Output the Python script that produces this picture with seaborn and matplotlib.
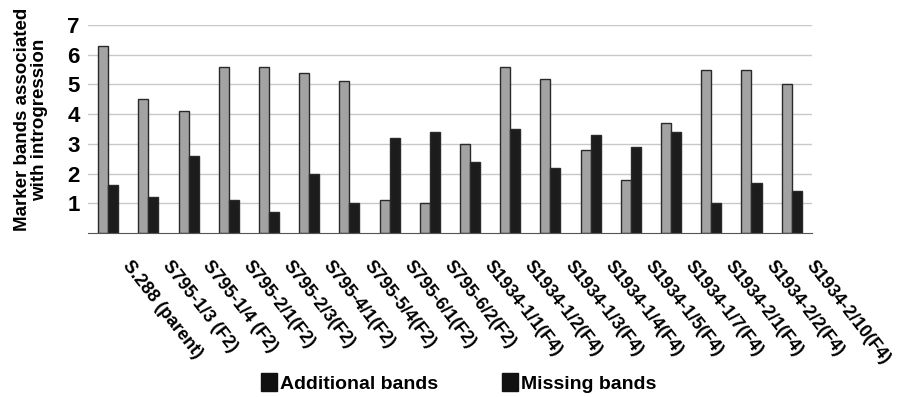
import matplotlib
matplotlib.use("Agg")
import matplotlib.pyplot as plt
import matplotlib.transforms as mtransforms
from matplotlib.patches import Patch
import numpy as np
import pandas as pd
import seaborn as sns

LINES = [
    "S.288 (parent)", "S795-1/3 (F2)", "S795-1/4 (F2)", "S795-2/1(F2)",
    "S795-2/3(F2)", "S795-4/1(F2)", "S795-5/4(F2)", "S795-6/1(F2)",
    "S795-6/2(F2)", "S1934-1/1(F4)", "S1934-1/2(F4)", "S1934-1/3(F4)",
    "S1934-1/4(F4)", "S1934-1/5(F4)", "S1934-1/7(F4)", "S1934-2/1(F4)",
    "S1934-2/2(F4)", "S1934-2/10(F4)",
]
ADDITIONAL = [6.3, 4.5, 4.1, 5.6, 5.6, 5.4, 5.1, 1.1, 1.0, 3.0, 5.6, 5.2,
              2.8, 1.8, 3.7, 5.5, 5.5, 5.0]
MISSING = [1.6, 1.2, 2.6, 1.1, 0.7, 2.0, 1.0, 3.2, 3.4, 2.4, 3.5, 2.2,
           3.3, 2.9, 3.4, 1.0, 1.7, 1.4]
SERIES = ["Additional bands", "Missing bands"]
Y_TICKS = [1, 2, 3, 4, 5, 6, 7]

sns.set_style("white")
plt.rcParams["font.family"] = ["Liberation Sans", "DejaVu Sans"]
plt.rcParams["font.weight"] = "bold"
plt.rcParams["text.color"] = "black"
plt.rcParams["xtick.color"] = "black"
plt.rcParams["ytick.color"] = "black"
plt.rcParams["axes.labelcolor"] = "black"

df = pd.DataFrame({
    "line": LINES * 2,
    "value": ADDITIONAL + MISSING,
    "series": [SERIES[0]] * len(LINES) + [SERIES[1]] * len(LINES),
})

fig = plt.figure(figsize=(9.03, 3.97), dpi=100)
ax = fig.add_axes([0.0975, 0.413, 0.8015, 0.524])

sns.barplot(
    data=df, x="line", y="value", hue="series", order=LINES,
    hue_order=SERIES, palette=["#a3a3a3", "#1c1c1c"], width=0.5,
    edgecolor="#2a2a2a", linewidth=1.0, errorbar=None, legend=False, ax=ax,
)

ax.set_ylim(0, 7)
ax.set_xlim(-0.5, len(LINES) - 0.5)
ax.set_yticks(Y_TICKS)
ax.set_yticklabels([str(v) for v in Y_TICKS], fontsize=16, fontweight="bold")
ax.yaxis.grid(True, color="#c8c8c8", linewidth=1.0)
ax.set_axisbelow(True)
for side in ["top", "right", "left"]:
    ax.spines[side].set_visible(False)
ax.spines["bottom"].set_color("#555555")
ax.tick_params(axis="y", length=0, pad=6)

# tick marks on the category boundaries, labels at the centres
ax.set_xticks(np.arange(len(LINES)))
ax.set_xticks(np.arange(len(LINES) + 1) - 0.5, minor=True)
ax.tick_params(axis="x", which="major", length=0, pad=0)
ax.tick_params(axis="x", which="minor", length=4, color="#555555")
offset = mtransforms.ScaledTranslation(24 / 100, -24 / 100, fig.dpi_scale_trans)
ax.set_xticklabels(LINES, rotation=-52, ha="left", va="top",
                   rotation_mode="anchor", fontsize=13, fontweight="bold")
for lab in ax.get_xticklabels():
    lab.set_transform(ax.get_xaxis_transform() + offset)
    lab.set_y(0)

ax.set_xlabel("")
ax.set_ylabel("Marker bands associated\nwith introgression", fontsize=13.5,
              fontweight="bold", linespacing=1.05)
ax.yaxis.set_label_coords(-0.055, 0.545)

# the printed legend shows both keys as black squares
handles = [Patch(facecolor="#111111", edgecolor="#111111") for _ in SERIES]
fig.legend(handles, SERIES, loc="center", bbox_to_anchor=(0.508, 0.035), ncol=2,
           frameon=False, prop={"size": 14, "weight": "bold"},
           handlelength=0.8, handleheight=1.0, handletextpad=0.15,
           columnspacing=3.3)

fig.savefig("out.png", dpi=100)
